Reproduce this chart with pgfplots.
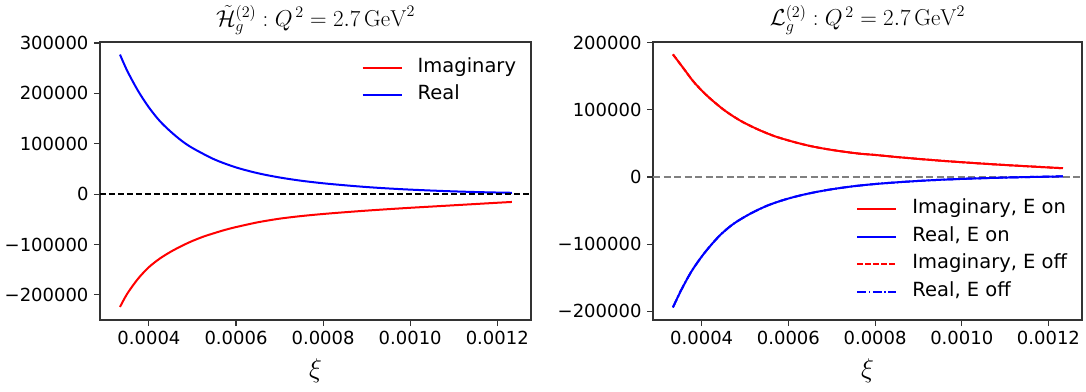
\RequirePackage{fix-cm}
\documentclass[border=0pt]{standalone}
\usepackage[no-math]{fontspec}
\setmainfont{DejaVu Sans}
\usepackage{pgfplots}
\pgfplotsset{compat=1.18}
\usepackage{pgfplotstable}

\pgfplotstableread{
x y
0.0003336 277000
0.00035 245000
0.000375 205000
0.0004 172000
0.000425 145000
0.00045 124000
0.000475 106000
0.0005 91500
0.00055 69000
0.0006 53000
0.00065 41500
0.0007 33000
0.00075 26500
0.0008 21500
0.00085 17500
0.0009 14000
0.00095 11200
0.001 8900
0.00105 7000
0.0011 5400
0.00115 4100
0.0012 3100
0.0012336 2600
}\leftreal

\pgfplotstableread{
x y
0.0003336 -224000
0.00035 -198000
0.000375 -168000
0.0004 -145000
0.000425 -128000
0.00045 -114500
0.000475 -103000
0.0005 -93000
0.000525 -84500
0.00055 -77500
0.000575 -71000
0.0006 -65500
0.00065 -56000
0.0007 -48800
0.00075 -43600
0.0008 -39500
0.00085 -36000
0.0009 -32800
0.00095 -29900
0.001 -27200
0.00105 -24700
0.0011 -22200
0.00115 -19700
0.0012 -17200
0.0012336 -15600
}\leftimag

\pgfplotstableread{
x y
0.0003336 182600
0.00036 160000
0.000383 140500
0.000414 120000
0.000452 99500
0.00049 83500
0.000529 71000
0.000567 61000
0.000606 53300
0.000644 47000
0.000682 42200
0.000721 38300
0.00076 35000
0.0008 32800
0.00085 29700
0.0009 26900
0.00095 24300
0.001 22000
0.00105 19800
0.0011 17800
0.00115 16000
0.0012 14200
0.0012336 13000
}\rightimag

\pgfplotstableread{
x y
0.0003336 -194200
0.000353 -168000
0.000376 -141000
0.0004 -118500
0.000422 -101000
0.000445 -85000
0.000475 -69000
0.000514 -54000
0.000552 -42500
0.00059 -34000
0.000629 -27200
0.000667 -22000
0.000705 -17800
0.00075 -13800
0.0008 -10500
0.00085 -8000
0.0009 -5900
0.00095 -4200
0.001 -2900
0.00105 -1800
0.0011 -900
0.00115 -150
0.0012 500
0.0012336 900
}\rightreal

\begin{document}
\begin{tikzpicture}
\useasboundingbox (-100pt,-71pt) rectangle (986pt,320pt);
\pgfplotsset{
  mystyle/.style={
    scale only axis,
    height=278pt,
    xmin=0.0002876, xmax=0.0012775,
    axis line style={draw=black!80, line width=1.1pt},
    tick align=outside,
    tick pos=left,
    major tick length=6pt,
    every tick/.style={draw=black!80, line width=1.1pt},
    scaled ticks=false,
    xtick={0.0004,0.0006,0.0008,0.0010,0.0012},
    xticklabels={0.0004,0.0006,0.0008,0.0010,0.0012},
    ticklabel style={font=\fontsize{18}{20}\selectfont},
    xticklabel style={yshift=-2pt},
    yticklabel style={xshift=-2pt},
    xlabel={$\xi$},
    xlabel style={font=\fontsize{27}{30}\selectfont, at={(axis description cs:0.5,0)}, anchor=center, yshift=-51pt},
    title style={font=\fontsize{23}{26}\selectfont, at={(axis description cs:0.5,1)}, anchor=base, yshift=10pt},
    legend cell align=left,
    legend image code/.code={\draw[##1, line width=2pt] (0pt,0pt) -- (39pt,0pt);},
    legend style={draw=none, fill=none, font=\fontsize{19.5}{21}\selectfont,
      row sep=8.5pt, column sep=14pt,
      nodes={inner sep=1pt, text height=13pt, text depth=4pt}},
    curve/.style={line width=2pt, smooth, tension=0.5},
  }
}
\begin{axis}[mystyle,
  at={(0pt,0pt)}, anchor=south west,
  width=431pt,
  ymin=-250000, ymax=302000,
  ytick={-200000,-100000,0,100000,200000,300000},
  yticklabels={−200000,−100000,0,100000,200000,300000},
  title={$\tilde{\mathcal{H}}_g^{(2)}:Q^{\,2}=2.7\,\mathrm{GeV}^2$},
  legend style={at={(0.975,0.95)}, anchor=north east},
]
\addplot[red, curve] table {\leftimag};
\addlegendentry{Imaginary}
\addplot[blue, curve] table {\leftreal};
\addlegendentry{Real}
\addplot[black, line width=1.8pt, dash pattern=on 6pt off 3pt, forget plot] coordinates {(0.0002876,0) (0.0012775,0)};
\end{axis}

\begin{axis}[mystyle,
  at={(553pt,0pt)}, anchor=south west,
  width=429pt,
  ymin=-213000, ymax=201000,
  ytick={-200000,-100000,0,100000,200000},
  yticklabels={−200000,−100000,0,100000,200000},
  title={$\mathcal{L}_g^{(2)}:Q^{\,2}=2.7\,\mathrm{GeV}^2$},
  legend style={at={(0.975,0.06)}, anchor=south east},
]
\addplot[gray, line width=1.8pt, dash pattern=on 7pt off 3.5pt, forget plot] coordinates {(0.0002876,0) (0.0012775,0)};
\addplot[red, curve] table {\rightimag};
\addlegendentry{Imaginary, E on}
\addplot[blue, curve] table {\rightreal};
\addlegendentry{Real, E on}
\addplot[red, curve, dash pattern=on 5.5pt off 2.5pt] table {\rightimag};
\addlegendentry{Imaginary, E off}
\addplot[blue, curve, dash pattern=on 9pt off 2.5pt on 1.5pt off 2.5pt] table {\rightreal};
\addlegendentry{Real, E off}
\end{axis}
\end{tikzpicture}
\end{document}
